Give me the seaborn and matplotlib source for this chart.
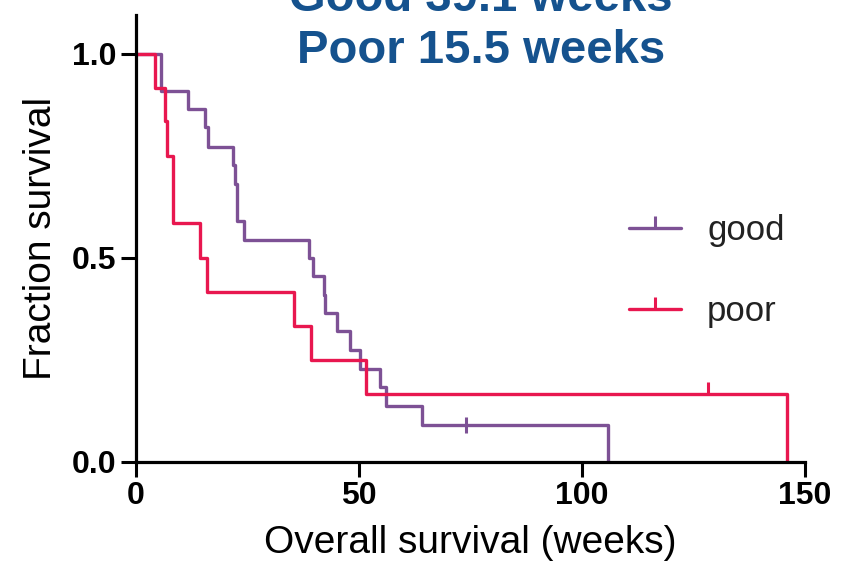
import matplotlib.pyplot as plt
from matplotlib.lines import Line2D
import pandas as pd
import seaborn as sns

# Kaplan-Meier steps (weeks, fraction surviving)
good_weeks = [0, 5.5, 11.7, 15.5, 16.2, 21.8, 22.3, 22.7, 24.3, 38.9, 39.6, 42.1,
              42.4, 45.1, 48.0, 50.3, 54.8, 56.1, 64.1, 105.9]
good_surv = [1.0, 0.91, 0.865, 0.82, 0.772, 0.727, 0.682, 0.59, 0.545, 0.5, 0.455,
             0.41, 0.365, 0.32, 0.275, 0.228, 0.183, 0.137, 0.091, 0.0]
poor_weeks = [0, 4.3, 6.6, 7.0, 8.2, 14.4, 16.0, 35.5, 39.2, 51.6, 145.9]
poor_surv = [1.0, 0.917, 0.835, 0.75, 0.585, 0.5, 0.417, 0.333, 0.25, 0.167, 0.0]

# censored observations
good_cens_weeks = [74.0]
good_cens_surv = [0.091]
poor_cens_weeks = [128.3]
poor_cens_surv = [0.167]

groups = ["good", "poor"]
colors = {"good": "#7d5195", "poor": "#e8174f"}

x_ticks = [0, 50, 100, 150]
y_ticks = [0.0, 0.5, 1.0]

df = pd.concat([
    pd.DataFrame({"weeks": good_weeks, "surv": good_surv, "group": "good"}),
    pd.DataFrame({"weeks": poor_weeks, "surv": poor_surv, "group": "poor"}),
])

sns.set_style("ticks")
plt.rcParams["font.family"] = ["Liberation Sans", "DejaVu Sans"]
plt.rcParams["text.color"] = "black"
plt.rcParams["axes.labelcolor"] = "black"
plt.rcParams["xtick.color"] = "black"
plt.rcParams["ytick.color"] = "black"

fig = plt.figure(figsize=(8.5, 5.62), dpi=100)
ax = fig.add_axes([0.16, 0.178, 0.787, 0.795])

sns.lineplot(data=df, x="weeks", y="surv", hue="group", palette=colors,
             drawstyle="steps-post", estimator=None, sort=False,
             linewidth=2.4, legend=False, ax=ax)

ax.plot(good_cens_weeks, good_cens_surv, linestyle="none", marker="|",
        markersize=12, mew=2.2, color=colors["good"])
ax.plot(poor_cens_weeks, poor_cens_surv, linestyle="none", marker=2,
        markersize=9, mew=2.2, color=colors["poor"])

ax.set_xlim(0, 150)
ax.set_ylim(0, 1.095)
ax.set_xticks(x_ticks)
ax.set_yticks(y_ticks)
ax.set_xticklabels([str(t) for t in x_ticks], fontsize=23, fontweight="bold")
ax.set_yticklabels([f"{t:.1f}" for t in y_ticks], fontsize=23, fontweight="bold")
ax.tick_params(axis="both", length=11, width=2.2, pad=3)

for side in ["left", "bottom"]:
    ax.spines[side].set_linewidth(2.3)
    ax.spines[side].set_color("black")
sns.despine(ax=ax)

ax.set_xlabel("Overall survival (weeks)", fontsize=28, labelpad=10)
ax.set_ylabel("Fraction survival", fontsize=28, labelpad=9)

handles = [Line2D([0], [0], color=colors[g], linewidth=2.4, marker=2,
                  markersize=9, mew=2.2) for g in groups]
ax.legend(handles, groups, loc="center left", bbox_to_anchor=(0.737, 0.427),
          frameon=False, fontsize=25, handlelength=1.5, handletextpad=0.75,
          labelspacing=1.38, borderpad=0, borderaxespad=0, numpoints=1,
          labelcolor="#222222")

fig.text(0.566, 1.002, "Good 39.1 weeks", ha="center", va="center",
         fontsize=34, fontweight="bold", color="#15528e")
fig.text(0.566, 0.909, "Poor 15.5 weeks", ha="center", va="center",
         fontsize=34, fontweight="bold", color="#15528e")

fig.savefig("out.png", dpi=100)
